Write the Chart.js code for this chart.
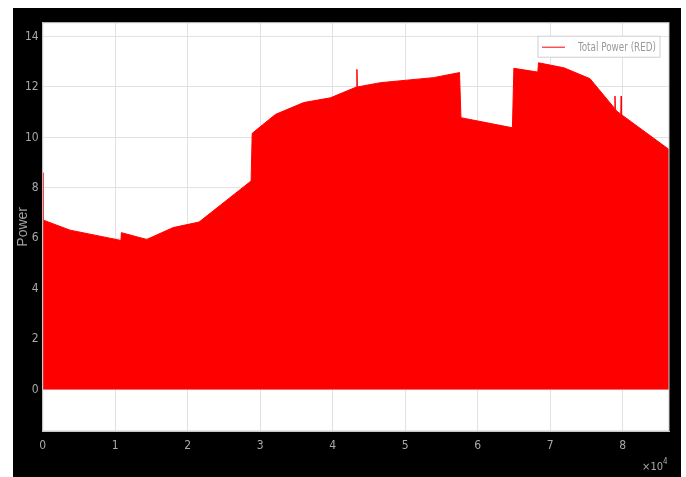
<!DOCTYPE html>
<html lang="en">
<head>
  <meta charset="UTF-8" />
  <title>Total Power</title>
  <script src="https://cdn.jsdelivr.net/npm/chart.js"></script>
  <style>
    body {
      margin: 0;
      background: #fff;
    }
    .frame {
      position: absolute;
      left: 13px;
      top: 8px;
      width: 668px;
      height: 469px;
      background: #000;
    }
  </style>
</head>
<body>
  <div class="frame">
    <canvas id="powerChart" width="668" height="469"></canvas>
  </div>

  <script>
    // time in seconds, power
    const timeSec = [0, 40, 3770, 10800, 10850, 14350, 18000, 21570, 28750, 28900,
      32100, 36000, 39700, 43300, 43350, 43400, 46600, 53900, 57500, 57700,
      64800, 65000, 68300, 68400, 71900, 75500, 78900, 78950, 79000, 79200,
      79750, 79800, 79850, 86400];
    const power = [8.6, 6.72, 6.32, 5.91, 6.22, 5.95, 6.42, 6.64, 8.27, 10.16,
      10.91, 11.38, 11.57, 12.0, 12.7, 12.0, 12.17, 12.37, 12.57, 10.78,
      10.38, 12.74, 12.59, 12.96, 12.76, 12.33, 11.15, 11.64, 11.12, 11.04,
      10.92, 11.64, 10.9, 9.52];
    const xTicks = [0, 10000, 20000, 30000, 40000, 50000, 60000, 70000, 80000];
    const yTicks = [0, 2, 4, 6, 8, 10, 12, 14];

    const narrow = "'Liberation Sans Narrow', 'DejaVu Sans Condensed', sans-serif";
    const tickGray = '#a8a8a8';

    const plotDecor = {
      id: 'plotDecor',
      beforeDraw(chart) {
        const a = chart.chartArea;
        const ctx = chart.ctx;
        ctx.save();
        ctx.fillStyle = '#fff';
        ctx.fillRect(a.left, a.top, a.right - a.left, a.bottom - a.top);
        ctx.restore();
      },
      afterDraw(chart) {
        const a = chart.chartArea;
        const ctx = chart.ctx;
        ctx.save();
        ctx.strokeStyle = '#c8c8c8';
        ctx.lineWidth = 1;
        ctx.strokeRect(a.left, a.top, a.right - a.left, a.bottom - a.top);

        // legend box
        const ds = chart.data.datasets[0];
        const bx = a.right - 131, by = a.top + 13.5, bw = 122, bh = 21;
        ctx.fillStyle = '#fff';
        ctx.fillRect(bx, by, bw, bh);
        ctx.strokeStyle = '#cfcfcf';
        ctx.strokeRect(bx, by, bw, bh);
        ctx.strokeStyle = ds.borderColor;
        ctx.beginPath();
        ctx.moveTo(bx + 4, by + 11);
        ctx.lineTo(bx + 27, by + 11);
        ctx.stroke();
        ctx.fillStyle = '#9a9a9a';
        ctx.font = '12px ' + narrow;
        ctx.textBaseline = 'middle';
        ctx.textAlign = 'left';
        const tw = ctx.measureText(ds.label).width;
        const sx = Math.min(1, 78 / tw);
        ctx.save();
        ctx.translate(bx + 40, by + 11.5);
        ctx.scale(sx, 1);
        ctx.fillText(ds.label, 0, 0);
        ctx.restore();

        // x exponent
        ctx.fillStyle = tickGray;
        ctx.font = '11px ' + narrow;
        ctx.textAlign = 'right';
        ctx.fillText('\u00d710', a.right - 6, a.bottom + 36);
        ctx.font = '8px ' + narrow;
        ctx.textAlign = 'left';
        ctx.fillText('4', a.right - 6, a.bottom + 31);
        ctx.restore();
      }
    };

    new Chart(document.getElementById('powerChart'), {
      type: 'line',
      data: {
        datasets: [{
          label: 'Total Power (RED)',
          data: timeSec.map((t, i) => ({ x: t, y: power[i] })),
          borderColor: '#ff0000',
          backgroundColor: '#ff0000',
          borderWidth: 1,
          pointRadius: 0,
          tension: 0,
          fill: 'origin'
        }]
      },
      options: {
        responsive: false,
        animation: false,
        layout: { padding: { left: 0, top: 14.7, right: 12, bottom: 0 } },
        plugins: {
          legend: { display: false },
          tooltip: { enabled: false }
        },
        scales: {
          x: {
            type: 'linear',
            min: 0,
            max: 86400,
            afterBuildTicks: s => { s.ticks = xTicks.map(v => ({ value: v })); },
            afterFit: s => { s.height = 46; },
            grid: { color: '#e2e2e2', drawTicks: false },
            border: { color: '#c8c8c8' },
            ticks: {
              color: tickGray,
              padding: 8,
              maxRotation: 0,
              font: { family: narrow, size: 12 },
              callback: v => v / 10000
            }
          },
          y: {
            min: -1.65,
            max: 14.55,
            afterBuildTicks: s => { s.ticks = yTicks.map(v => ({ value: v })); },
            afterFit: s => { s.width = 29.7; },
            grid: { color: '#e2e2e2', drawTicks: false },
            border: { color: '#c8c8c8' },
            title: {
              display: true,
              text: 'Power',
              color: '#a0a0a0',
              padding: { top: 1.6, bottom: 0 },
              font: { family: 'Liberation Sans, Arial, sans-serif', size: 14 }
            },
            ticks: {
              color: tickGray,
              padding: 4,
              font: { family: narrow, size: 12 }
            }
          }
        }
      },
      plugins: [plotDecor]
    });
  </script>
</body>
</html>
